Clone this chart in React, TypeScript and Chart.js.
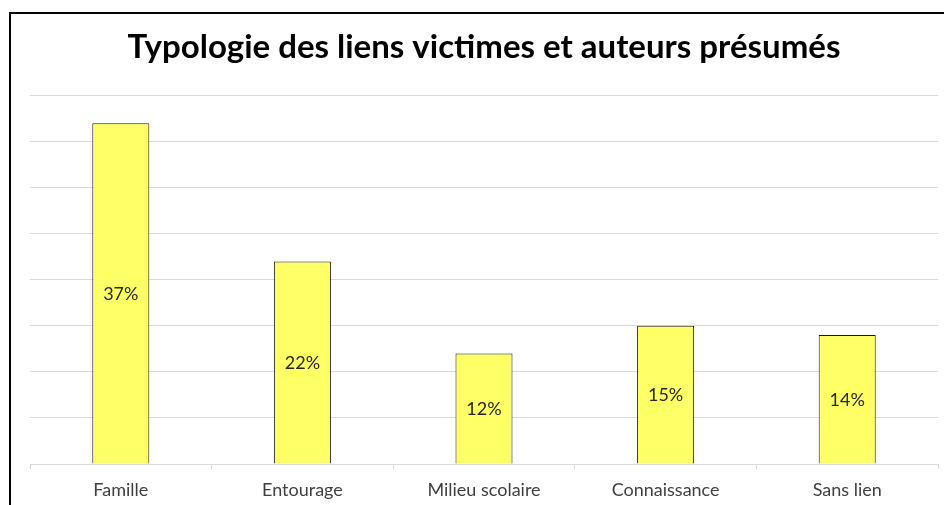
import React, { useEffect, useRef } from "react";
import { Chart, registerables } from "chart.js";

Chart.register(...registerables);

const TITLE = "Typologie des liens victimes et auteurs présumés";
const categories = ["Famille", "Entourage", "Milieu scolaire", "Connaissance", "Sans lien"];
const values = [37, 22, 12, 15, 14];
const Y_MAX = 40;
const Y_STEP = 5;

const FONT = "Lato, 'Open Sans', sans-serif";

const frame = {
  id: "frame",
  afterDraw(chart: any) {
    const { ctx } = chart;
    ctx.save();
    ctx.strokeStyle = "#000";
    ctx.lineWidth = 2;
    ctx.beginPath();
    ctx.moveTo(10, 505);
    ctx.lineTo(10, 13);
    ctx.lineTo(944, 13);
    ctx.stroke();
    ctx.restore();
  },
};

const barLabels = {
  id: "barLabels",
  afterDatasetsDraw(chart: any) {
    const { ctx } = chart;
    const meta = chart.getDatasetMeta(0);
    ctx.save();
    ctx.fillStyle = "#262626";
    ctx.font = "18px " + FONT;
    ctx.textAlign = "center";
    ctx.textBaseline = "middle";
    meta.data.forEach((bar: any, i: number) => {
      const y = (bar.y + bar.base) / 2;
      ctx.fillText(values[i] + "%", bar.x, y + 1);
    });
    ctx.restore();
  },
};

export default function App() {
  const ref = useRef<HTMLCanvasElement>(null);
  useEffect(() => {
    document.body.style.margin = "0";
    const chart = new Chart(ref.current!, {
      type: "bar",
      data: {
        labels: categories,
        datasets: [
          {
            data: values,
            backgroundColor: "#FFFF66",
            borderColor: "#1a1a1a",
            borderWidth: 1,
            categoryPercentage: 1,
            barPercentage: 0.314,
          },
        ],
      },
      options: {
        animation: false,
        responsive: false,
        maintainAspectRatio: false,
        layout: { padding: { left: 30, right: 6, top: 4, bottom: 0 } },
        plugins: {
          legend: { display: false },
          tooltip: { enabled: false },
          title: {
            display: true,
            text: TITLE,
            color: "#000",
            font: { family: FONT, size: 33, weight: "bold" },
            padding: { top: 24, bottom: 28 },
          },
        },
        scales: {
          y: {
            min: 0,
            max: Y_MAX,
            ticks: { display: false, stepSize: Y_STEP },
            grid: { color: "#d9d9d9", drawTicks: false, lineWidth: 1 },
            border: { display: false },
          },
          x: {
            afterFit: (scale: any) => {
              scale.height = 41;
            },
            ticks: {
              color: "#404040",
              font: { family: FONT, size: 18 },
              padding: 10,
            },
            grid: {
              offset: true,
              drawOnChartArea: false,
              drawTicks: true,
              tickLength: 5,
              color: "#d9d9d9",
            },
            border: { display: true, color: "#d9d9d9" },
          },
        },
      },
      plugins: [barLabels, frame],
    });
    return () => chart.destroy();
  }, []);
  return (
    <div style={{ width: 944, height: 505, background: "#fff" }}>
      <canvas ref={ref} width={944} height={505} style={{ display: "block" }} />
    </div>
  );
}
